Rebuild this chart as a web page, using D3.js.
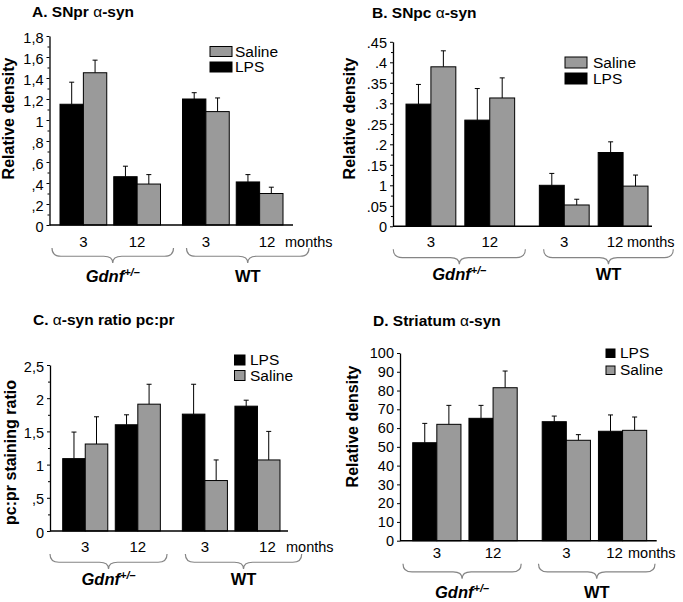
<!DOCTYPE html>
<html><head><meta charset="utf-8">
<script src="https://cdn.jsdelivr.net/npm/d3@7"></script>
<style>
body{margin:0;background:#fff}
svg{display:block}
text{font-family:"Liberation Sans",Arial,Helvetica,sans-serif;fill:#000}
</style>
</head><body>
<svg id="chart" width="683" height="602"></svg>
<script>
// ---------------- DATA ----------------
const genotypes = ["Gdnf", "WT"];
const months = ["3", "12"];
const treatments = ["LPS", "Saline"];

// A. SNpr alpha-syn (order: Gdnf 3, Gdnf 12, WT 3, WT 12)
const aLPS = [1.15, 0.46, 1.20, 0.41];
const aLPSErr = [0.21, 0.10, 0.06, 0.07];
const aSaline = [1.45, 0.39, 1.08, 0.30];
const aSalineErr = [0.12, 0.09, 0.13, 0.06];
const aTickValues = [0, 0.2, 0.4, 0.6, 0.8, 1.0, 1.2, 1.4, 1.6, 1.8];
const aTickLabels = ["0", ",2", ",4", ",6", ",8", "1", "1,2", "1,4", "1,6", "1,8"];

// B. SNpc alpha-syn
const bLPS = [0.298, 0.259, 0.100, 0.180];
const bLPSErr = [0.048, 0.077, 0.029, 0.026];
const bSaline = [0.389, 0.313, 0.052, 0.098];
const bSalineErr = [0.039, 0.049, 0.014, 0.027];
const bTickValues = [0, 0.05, 0.1, 0.15, 0.2, 0.25, 0.3, 0.35, 0.4, 0.45];
const bTickLabels = ["0", ".05", "1", ".15", ".2", ".25", ".3", ".35", ".4", ".45"];

// C. alpha-syn ratio pc:pr
const cLPS = [1.09, 1.60, 1.76, 1.88];
const cLPSErr = [0.40, 0.15, 0.45, 0.09];
const cSaline = [1.31, 1.91, 0.76, 1.07];
const cSalineErr = [0.41, 0.30, 0.31, 0.43];
const cTickValues = [0, 0.5, 1, 1.5, 2, 2.5];
const cTickLabels = ["0", ",5", "1", "1,5", "2", "2,5"];

// D. Striatum alpha-syn
const dLPS = [52.2, 65.2, 63.4, 58.3];
const dLPSErr = [10.3, 6.9, 3.0, 8.7];
const dSaline = [62.0, 81.5, 53.5, 58.8];
const dSalineErr = [10.1, 8.9, 3.0, 7.1];
const dTickValues = [0, 10, 20, 30, 40, 50, 60, 70, 80, 90, 100];
const dTickLabels = ["0", "10", "20", "30", "40", "50", "60", "70", "80", "90", "100"];

// ---------------- STYLE / LAYOUT ----------------
const colors = { LPS: "#000000", Saline: "#9a9a9a" };
const braceColor = "#858585";

const panels = [
  { letter: "A.", name: "SNpr", yLabel: "Relative density",
    lps: aLPS, lpsErr: aLPSErr, sal: aSaline, salErr: aSalineErr,
    tickValues: aTickValues, tickLabels: aTickLabels, minorStep: 0.1, max: 1.8,
    legendOrder: ["Saline", "LPS"],
    L: { axisX: 49.5, base: 225, top: 36, xEnd: 293, bars: [60, 283], gGap: 22, mGap: 7,
         titleX: 32, titleY: 17, yLabX: 13.5, yLabY: 118.5, labDy: 1.5,
         monthDy: 21.5, lastDx: 7.5, monthsX: 285, genoDy: 57,
         braceDx: [[-8, 13], [4, 26]],
         leg: { x: 210, y: 46.5, w: 22, h: 10, gap: 15.5, tx: 235 } } },
  { letter: "B.", name: "SNpc", yLabel: "Relative density",
    lps: bLPS, lpsErr: bLPSErr, sal: bSaline, salErr: bSalineErr,
    tickValues: bTickValues, tickLabels: bTickLabels, minorStep: 0.025, max: 0.45,
    legendOrder: ["Saline", "LPS"],
    L: { axisX: 393, base: 226.3, top: 41.8, xEnd: 652, bars: [406, 648], gGap: 24.7, mGap: 9,
         titleX: 372, titleY: 18, yLabX: 355, yLabY: 118.5, labDy: 1,
         monthDy: 20.5, lastDx: -8, monthsX: 627, genoDy: 54,
         braceDx: [[-12.7, 10.7], [4.3, 25.3]],
         leg: { x: 565, y: 57, w: 22, h: 11, gap: 16, tx: 593 } } },
  { letter: "C.", name: "", yLabel: "pc:pr staining ratio",
    lps: cLPS, lpsErr: cLPSErr, sal: cSaline, salErr: cSalineErr,
    tickValues: cTickValues, tickLabels: cTickLabels, minorStep: 0.25, max: 2.5,
    legendOrder: ["LPS", "Saline"], titleC: true,
    L: { axisX: 50, base: 531, top: 365, xEnd: 288, bars: [62.7, 280], gGap: 22, mGap: 7.5,
         titleX: 33, titleY: 325, yLabX: 16, yLabY: 452.5, labDy: 1.5,
         monthDy: 20.5, lastDx: 10, monthsX: 286, genoDy: 54,
         braceDx: [[-12.7, 6.7], [3, 21.7]],
         leg: { x: 234.5, y: 355, w: 10.5, h: 10, gap: 15.5, tx: 250 } } },
  { letter: "D.", name: "Striatum", yLabel: "Relative density",
    lps: dLPS, lpsErr: dLPSErr, sal: dSaline, salErr: dSalineErr,
    tickValues: dTickValues, tickLabels: dTickLabels, minorStep: null, max: 100,
    legendOrder: ["LPS", "Saline"],
    L: { axisX: 400, base: 540.7, top: 353, xEnd: 656.7, bars: [412.7, 646.7], gGap: 25, mGap: 8,
         titleX: 373, titleY: 326, yLabX: 358, yLabY: 426.5, labDy: 0,
         monthDy: 17.5, lastDx: -8, monthsX: 628, genoDy: 57,
         braceDx: [[-9.7, 4], [-3.7, 8.3]],
         leg: { x: 606, y: 349, w: 9, h: 8.5, gap: 17, tx: 620 } } }
];

const svg = d3.select("#chart");

function bracePath(x1, x2, y0, y1) {
  const xm = (x1 + x2) / 2, ym = y0 + (y1 - y0) * 0.55, r = 9;
  return `M${x1},${y0} Q${x1},${ym} ${x1 + r},${ym} L${xm - r},${ym} Q${xm},${ym} ${xm},${y1}` +
         ` Q${xm},${ym} ${xm + r},${ym} L${x2 - r},${ym} Q${x2},${ym} ${x2},${y0}`;
}

function padFor(range, gap, n) {
  const w = range[1] - range[0];
  return (n * gap) / (w + gap);
}

panels.forEach(p => {
  const L = p.L;
  const g = svg.append("g");

  // title
  const t = g.append("text").attr("x", L.titleX).attr("y", L.titleY)
    .attr("font-size", 15.5).attr("font-weight", "bold");
  if (p.titleC) {
    t.append("tspan").text("C. ");
    t.append("tspan").attr("font-weight", "normal").text("α");
    t.append("tspan").text("-syn ratio pc:pr");
  } else {
    t.append("tspan").text(p.letter + " " + p.name + " ");
    t.append("tspan").attr("font-weight", "normal").text("α");
    t.append("tspan").text("-syn");
  }

  // scales
  const y = d3.scaleLinear().domain([0, p.max]).range([L.base, L.top]);
  const gx = d3.scaleBand().domain(genotypes).range(L.bars)
    .paddingInner(padFor(L.bars, L.gGap, 2)).paddingOuter(0);
  const mRange = [0, gx.bandwidth()];
  const mx = d3.scaleBand().domain(months).range(mRange)
    .paddingInner(padFor(mRange, L.mGap, 2)).paddingOuter(0);
  const tx = d3.scaleBand().domain(treatments).range([0, mx.bandwidth()]).padding(0);

  // y axis
  const yAxis = d3.axisLeft(y).tickValues(p.tickValues)
    .tickFormat((d, i) => p.tickLabels[i]).tickSize(3).tickSizeOuter(0).tickPadding(3);
  const ya = g.append("g").attr("transform", `translate(${L.axisX},0)`).call(yAxis);
  ya.select(".domain").attr("stroke", "#000").attr("stroke-width", 1.3);
  ya.selectAll(".tick line").attr("stroke", "#000").attr("stroke-width", 1);
  ya.selectAll(".tick text").attr("font-size", 14.5).attr("font-family", "Liberation Sans, Arial, sans-serif")
    .attr("dy", (0.32 + L.labDy / 14.5) + "em");
  if (p.minorStep) {
    const minorVals = d3.range(0, p.max + 1e-9, p.minorStep)
      .filter(v => !p.tickValues.some(tv => Math.abs(tv - v) < 1e-9));
    const mAxis = d3.axisLeft(y).tickValues(minorVals).tickFormat("").tickSize(2).tickSizeOuter(0);
    const ma = g.append("g").attr("transform", `translate(${L.axisX},0)`).call(mAxis);
    ma.select(".domain").remove();
    ma.selectAll(".tick line").attr("stroke", "#000").attr("stroke-width", 1);
  }

  // y label
  g.append("text").attr("transform", `translate(${L.yLabX},${L.yLabY}) rotate(-90)`)
    .attr("text-anchor", "middle").attr("font-size", 16).attr("font-weight", "bold")
    .text(p.yLabel);

  // bars
  const rows = [];
  genotypes.forEach((gn, gi) => months.forEach((mn, mi) => {
    const idx = gi * 2 + mi;
    rows.push({ g: gn, m: mn, t: "LPS", v: p.lps[idx], e: p.lpsErr[idx] });
    rows.push({ g: gn, m: mn, t: "Saline", v: p.sal[idx], e: p.salErr[idx] });
  }));
  const xOf = d => gx(d.g) + mx(d.m) + tx(d.t);

  const eg = g.append("g").attr("stroke", "#000").attr("stroke-width", 1);
  eg.selectAll("line.v").data(rows).join("line").attr("class", "v")
    .attr("x1", d => xOf(d) + tx.bandwidth() / 2).attr("x2", d => xOf(d) + tx.bandwidth() / 2)
    .attr("y1", d => y(d.v)).attr("y2", d => y(d.v + d.e));
  eg.selectAll("line.c").data(rows).join("line").attr("class", "c")
    .attr("x1", d => xOf(d) + tx.bandwidth() / 2 - 2.5).attr("x2", d => xOf(d) + tx.bandwidth() / 2 + 2.5)
    .attr("y1", d => y(d.v + d.e)).attr("y2", d => y(d.v + d.e));

  g.append("g").selectAll("rect").data(rows).join("rect")
    .attr("x", d => xOf(d)).attr("width", tx.bandwidth())
    .attr("y", d => y(d.v)).attr("height", d => y(0) - y(d.v))
    .attr("fill", d => colors[d.t]).attr("stroke", "#000").attr("stroke-width", 1);

  // x axis line
  g.append("line").attr("x1", L.axisX).attr("x2", L.xEnd).attr("y1", y(0)).attr("y2", y(0))
    .attr("stroke", "#000").attr("stroke-width", 1.5);

  // month labels
  genotypes.forEach((gn, gi) => months.forEach((mn, mi) => {
    const cx = gx(gn) + mx(mn) + mx.bandwidth() / 2;
    const last = gi === 1 && mi === 1;
    g.append("text").attr("x", cx + (last ? L.lastDx : 0)).attr("y", L.base + L.monthDy)
      .attr("text-anchor", "middle").attr("font-size", 15).text(mn);
  }));
  g.append("text").attr("x", L.monthsX).attr("y", L.base + L.monthDy)
    .attr("font-size", 14.5).text("months");

  // braces + genotype labels
  genotypes.forEach((gn, gi) => {
    const x1 = gx(gn) + L.braceDx[gi][0], x2 = gx(gn) + gx.bandwidth() + L.braceDx[gi][1];
    g.append("path").attr("d", bracePath(x1, x2, L.base + 23, L.base + 38))
      .attr("fill", "none").attr("stroke", braceColor).attr("stroke-width", 1.2);
    const lt = g.append("text").attr("x", (x1 + x2) / 2).attr("y", L.base + L.genoDy)
      .attr("text-anchor", "middle").attr("font-size", 16.5).attr("font-weight", "bold");
    if (gn === "Gdnf") {
      lt.append("tspan").attr("font-style", "italic").text("Gdnf");
      lt.append("tspan").attr("font-style", "italic").attr("font-size", 11).attr("dy", -6).text("+/–");
    } else {
      lt.text(gn);
    }
  });

  // legend
  p.legendOrder.forEach((tn, i) => {
    const ly = L.leg.y + i * L.leg.gap;
    g.append("rect").attr("x", L.leg.x).attr("y", ly).attr("width", L.leg.w).attr("height", L.leg.h)
      .attr("fill", colors[tn]).attr("stroke", "#000").attr("stroke-width", 1);
    g.append("text").attr("x", L.leg.tx).attr("y", ly + L.leg.h).attr("font-size", 15.5).text(tn);
  });
});
</script>
</body></html>
